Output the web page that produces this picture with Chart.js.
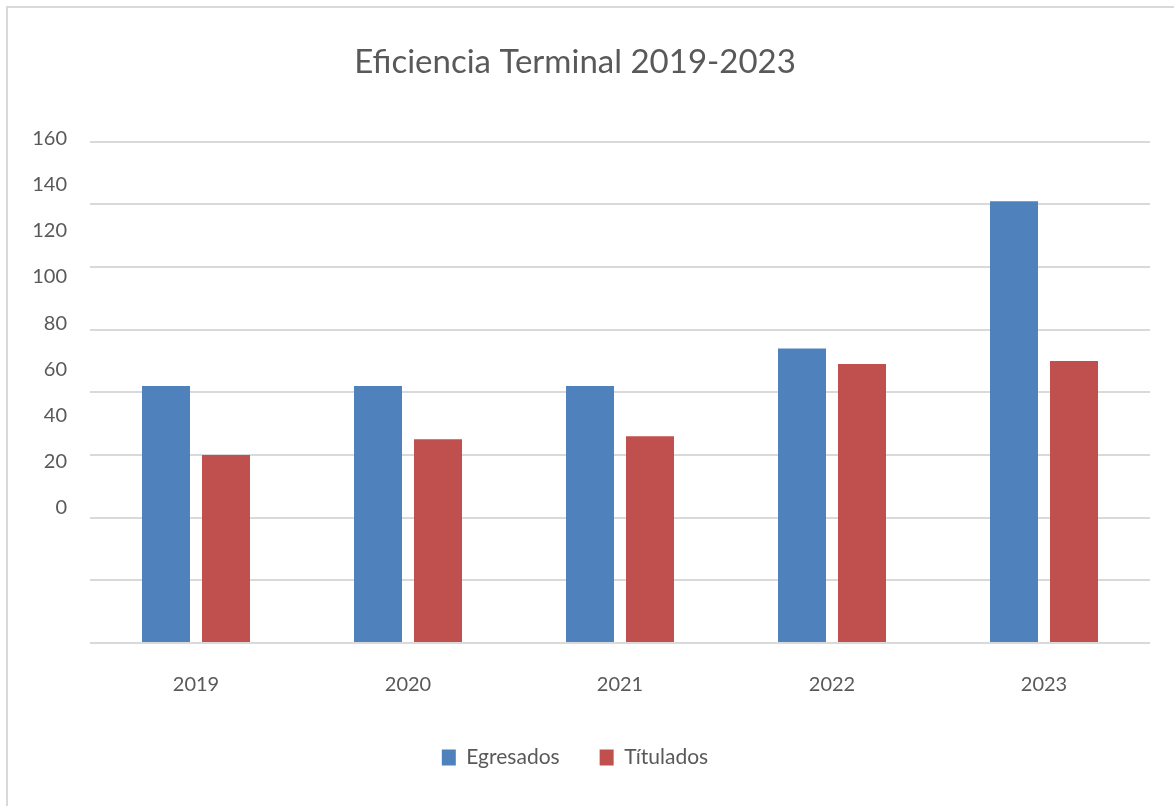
<!DOCTYPE html>
<html>
<head>
<meta charset="utf-8">
<script src="https://cdn.jsdelivr.net/npm/chart.js@4/dist/chart.umd.min.js"></script>
<style>
  html, body { margin: 0; padding: 0; background: #fff; overflow: hidden; }
  #frame { position: absolute; left: 6px; top: 6px; width: 1200px; height: 900px; border: 2px solid #d9d9d9; }
  #wrap { position: absolute; left: 0; top: 0; width: 1174px; height: 806px; }
</style>
</head>
<body>
<div id="frame"></div>
<div id="wrap"><canvas id="barChartEficiencia"></canvas></div>
<script>
// datos
const years = ['2019', '2020', '2021', '2022', '2023'];
const egresados = [82, 82, 82, 94, 141];
const titulados = [60, 65, 66, 89, 90];
const yTicks = [0, 20, 40, 60, 80, 100, 120, 140, 160];

const textColor = '#595959';
const fontFamily = 'Lato, "Open Sans", sans-serif';

const ctx = document.getElementById('barChartEficiencia').getContext('2d');
const barChart = new Chart(ctx, {
    type: 'bar',
    data: {
        labels: years,
        datasets: [{
            label: 'Egresados',
            data: egresados,
            backgroundColor: '#4f81bd',
            yAxisID: 'y',
        }, {
            label: 'Títulados',
            data: titulados,
            backgroundColor: '#c0504d',
            yAxisID: 'y',
        }],
    },
    options: {
        responsive: true,
        maintainAspectRatio: false,
        animation: false,
        categoryPercentage: 0.566,
        barPercentage: 0.8,
        layout: { padding: { top: 0, right: 24, bottom: 28, left: 0 } },
        plugins: {
            title: {
                display: true,
                text: 'Eficiencia Terminal 2019-2023',
                color: textColor,
                font: { family: fontFamily, size: 33, weight: 'normal' },
                padding: { top: 43, bottom: 59 },
            },
            legend: {
                position: 'bottom',
                labels: {
                    color: textColor,
                    font: { family: fontFamily, size: 21 },
                    boxWidth: 14,
                    boxHeight: 16,
                    padding: 40,
                },
            },
            tooltip: { enabled: false },
        },
        scales: {
            x: {
                grid: { display: false, drawTicks: false },
                border: { display: false },
                ticks: {
                    color: textColor,
                    font: { family: fontFamily, size: 20 },
                    padding: 30,
                },
                afterFit: s => { s.height = 64; },
            },
            y: {
                min: 0,
                max: 160,
                position: 'left',
                ticks: { display: false, stepSize: 20 },
                grid: { color: '#d9d9d9', lineWidth: 2, drawTicks: false },
                border: { display: false },
                afterFit: s => { s.width = 0; },
            },
            // eje de etiquetas desplazado como en la imagen original
            yl: {
                position: 'left',
                min: -58.7,
                max: 158.7,
                grid: { display: false, drawTicks: false },
                border: { display: false },
                ticks: {
                    color: textColor,
                    font: { family: fontFamily, size: 20 },
                    padding: 23,
                    autoSkip: false,
                },
                afterBuildTicks: s => { s.ticks = yTicks.map(v => ({ value: v })); },
                afterFit: s => { s.width = 90; },
            },
        },
    },
});
</script>
</body>
</html>
